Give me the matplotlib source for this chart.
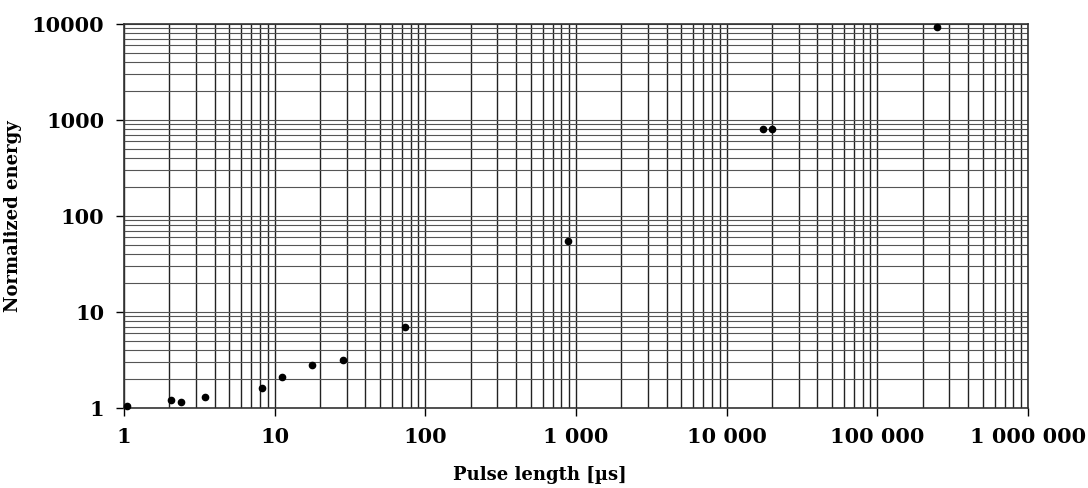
import numpy as np
import matplotlib
matplotlib.use('Agg')
import matplotlib.pyplot as plt
from matplotlib.ticker import LogLocator, NullFormatter

# pulse length [us] vs normalized energy
pulse = [1.05, 2.05, 2.4, 3.45, 8.3, 11.2, 17.7, 28.5, 73, 880, 17400, 19900, 248000]
energy = [1.04, 1.2, 1.15, 1.3, 1.6, 2.1, 2.8, 3.15, 7.0, 55, 800, 800, 9300]

xticks = [1, 10, 100, 1000, 10000, 100000, 1000000]
xlabels = ['1', '10', '100', '1 000', '10 000', '100 000', '1 000 000']
yticks = [1, 10, 100, 1000, 10000]
ylabels = ['1', '10', '100', '1000', '10000']

plt.rcParams['font.family'] = ['DejaVu Serif']
plt.rcParams['font.weight'] = 'bold'

fig = plt.figure(figsize=(10.88, 4.88), dpi=100)
ax = fig.add_axes([124/1088, 1 - 408/488, (1028 - 124)/1088, (408 - 24)/488])

ax.set_xscale('log')
ax.set_yscale('log')
ax.set_xlim(1, 1e6)
ax.set_ylim(1, 1e4)

ax.set_xticks(xticks, xlabels)
ax.set_yticks(yticks, ylabels)
ax.xaxis.set_minor_locator(LogLocator(base=10, subs=np.arange(2, 10)))
ax.yaxis.set_minor_locator(LogLocator(base=10, subs=np.arange(2, 10)))
ax.xaxis.set_minor_formatter(NullFormatter())
ax.yaxis.set_minor_formatter(NullFormatter())

ax.tick_params(which='major', direction='out', length=6, width=1, labelsize=15, pad=8)
ax.tick_params(which='minor', length=0)

ax.grid(True, which='both', axis='x', color='#222222', lw=1.0)
ax.grid(True, which='both', axis='y', color='#555555', lw=0.8)
ax.set_axisbelow(True)

for s in ax.spines.values():
    s.set_color('#333333')
    s.set_linewidth(1.2)

ax.plot(pulse, energy, 'o', color='black', markersize=4.5, zorder=3, clip_on=False)

ax.set_xlabel('Pulse length [µs]', fontsize=13, fontweight='bold')
ax.set_ylabel('Normalized energy', fontsize=13, fontweight='bold')
ax.xaxis.set_label_coords(0.46, -0.15)
ax.yaxis.set_label_coords(-0.113, 0.5)

fig.savefig('out.png', dpi=100)
